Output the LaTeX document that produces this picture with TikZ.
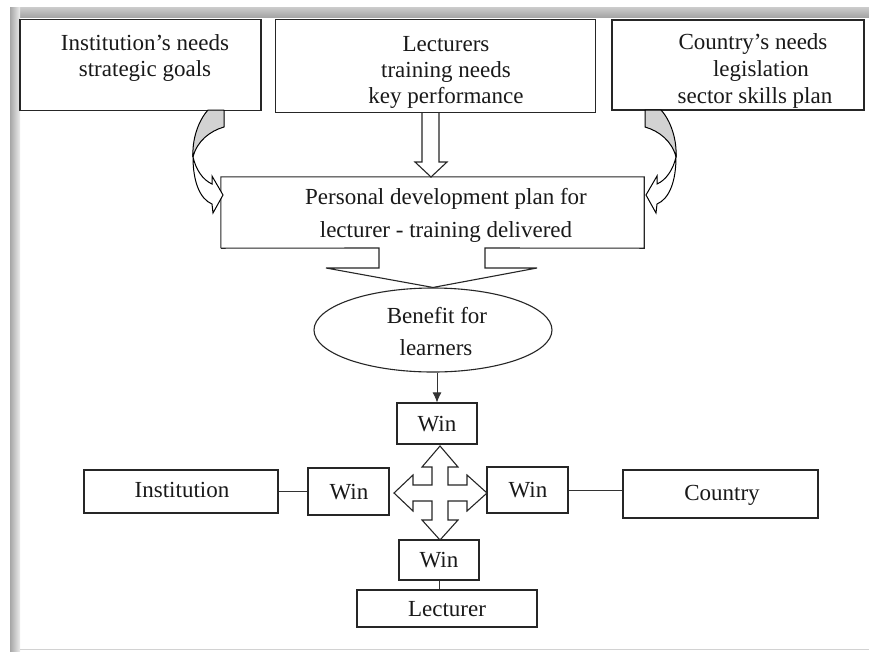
\documentclass[tikz,border=0pt]{standalone}
\usepackage{fontspec}
\setmainfont{Liberation Serif}
\usetikzlibrary{shapes.geometric,calc,arrows.meta}
% curved 3D-style arrow leaving a box edge and bending into the plan box
\newcommand\drawcurvedarrow{%
  \draw[line width=1pt, fill=gray!35, line join=round]
    (208,110) -- (224,110) -- (224,127)
    .. controls (210,131) and (197,141) .. (193,157)
    .. controls (192,140) and (198,121) .. (208,110) -- cycle;
  \draw[line width=1pt, fill=white, line join=miter]
    (193,157) .. controls (196,170) and (203,180) .. (212,184)
    -- (212,176) -- (223,195) -- (213,213) -- (212,204)
    .. controls (200,199) and (193,182) .. (193,157) -- cycle;
}
\begin{document}
\begin{tikzpicture}[x=1pt,y=-1pt,
  every node/.style={font=\fontsize{23}{27}\selectfont, text=black!90},
  box/.style={draw=black!85, line width=1.1pt, rectangle, inner sep=0pt},
  txt/.style={anchor=base, inner sep=0pt},
  line/.style={draw=black!85, line width=1.1pt},
  conn/.style={draw=black!80, line width=0.9pt}]

% page and window frame
\fill[white] (0,0) rectangle (869,651);
\useasboundingbox (0,0) rectangle (869,651);
\fill[top color=gray!40, bottom color=gray!70] (10,7) rectangle (869,17);
\fill[left color=gray!70, right color=gray!15] (10,7) rectangle (20,651);
\draw[gray!35, line width=0.8pt] (20,649.5) -- (869,649.5);

% top row of sources
\node[box, minimum width=241pt, minimum height=91pt] (inst) at (140.5,65) {};
\node[box, minimum width=320pt, minimum height=93pt] (lect) at (435.5,66) {};
\node[box, minimum width=252pt, minimum height=90pt] (ctry) at (738,65) {};

\node[txt] (inst1) at (145,50) {Institution’s needs};
\node[txt] (inst2) at (145,76) {strategic goals};
\node[txt] (lect1) at (446,51) {Lecturers};
\node[txt] (lect2) at (446,77) {training needs};
\node[txt] (lect3) at (446,103) {key performance};
\node[txt] (ctry1) at (753,49) {Country’s needs};
\node[txt] (ctry2) at (761,76) {legislation};
\node[txt] (ctry3) at (755,103) {sector skills plan};

% personal development plan box with funnel outlet
\node[minimum width=423pt, minimum height=71pt, inner sep=0pt] (plan) at (432.5,212.5) {};
\node[txt] (plan1) at (446,204) {Personal development plan for};
\node[txt] (plan2) at (446,237) {lecturer - training delivered};

\node[draw=black!85, line width=1.1pt, ellipse, minimum width=238pt, minimum height=84pt, inner sep=0pt] (benefit) at (433,330) {};
\node[txt] (ben1) at (437,323) {Benefit for};
\node[txt] (ben2) at (436,355) {learners};

\draw[line, line join=miter]
  (plan.south west) -- (plan.north west) -- (plan.north east) -- (plan.south east)
  -- (485,248) -- (485,268) -- (537,268) -- (benefit.north);
\draw[line, line join=miter]
  (plan.south west) -- (379,248) -- (379,268) -- (326,268) -- (benefit.north);

% hollow arrow from the lecturers box
\draw[line, fill=white, line join=miter]
  (422,113) -- (422,162) -- (415,162) -- (431,177) -- (447,162) -- (439,162) -- (439,113);

% curved arrows from the side boxes
\drawcurvedarrow
\begin{scope}[xshift=869pt, xscale=-1]
\drawcurvedarrow
\end{scope}

% win boxes and partners
\node[box, minimum width=80pt, minimum height=41pt] (wintop) at (437,423.5) {};
\node[box, minimum width=81pt, minimum height=47pt] (winleft) at (348.5,491.5) {};
\node[box, minimum width=81pt, minimum height=46pt] (winright) at (527.5,490) {};
\node[box, minimum width=80pt, minimum height=40pt] (winbottom) at (439,560) {};
\node[box, minimum width=194pt, minimum height=43pt] (institution) at (181,491.5) {};
\node[box, minimum width=195pt, minimum height=48pt] (country) at (720.5,494) {};
\node[box, minimum width=180pt, minimum height=37pt] (lecturer) at (447,608.5) {};

\node[txt] (wt) at (437,431) {Win};
\node[txt] (wl) at (349,499) {Win};
\node[txt] (wr) at (528,497) {Win};
\node[txt] (wb) at (439,567) {Win};
\node[txt] (tinst) at (182,497) {Institution};
\node[txt] (tctry) at (722,500) {Country};
\node[txt] (tlect) at (447,616) {Lecturer};

% arrow from benefit to the top win
\draw[conn, -{Latex[length=10pt,width=9pt]}] (benefit.south -| wintop.north) -- (wintop.north);

% four-way arrow
\draw[line, fill=white, line join=miter]
  (440,446) -- (458,467) -- (448,467) -- (448,485) -- (467,485) -- (467,475)
  -- (487,493) -- (467,511) -- (467,501) -- (448,501) -- (448,520) -- (458,520)
  -- (440,540) -- (422,520) -- (432,520) -- (432,501) -- (413,501) -- (413,511)
  -- (394,493) -- (413,475) -- (413,485) -- (432,485) -- (432,467) -- (422,467) -- cycle;

% partner connectors
\draw[conn] (institution.east) -- (institution.east -| winleft.west);
\draw[conn] (winright.east) -- (winright.east -| country.west);
\draw[conn] (winbottom.south) -- (winbottom.south |- lecturer.north);
\end{tikzpicture}
\end{document}
